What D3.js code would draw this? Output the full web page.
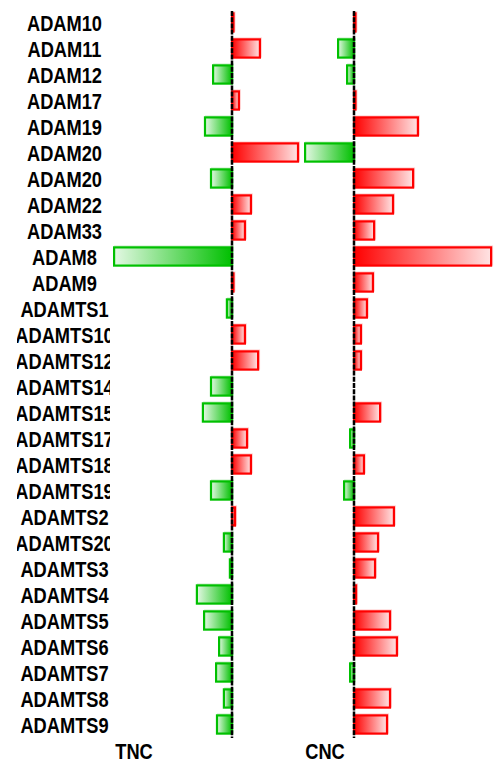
<!DOCTYPE html>
<html><head><meta charset="utf-8">
<script src="https://cdn.jsdelivr.net/npm/d3@7"></script>
<style>html,body{margin:0;padding:0;background:#fff;}svg{display:block;}</style>
</head><body>
<svg id="chart" width="496" height="764"></svg>
<script>
const categories = ["ADAM10","ADAM11","ADAM12","ADAM17","ADAM19","ADAM20","ADAM20","ADAM22","ADAM33","ADAM8","ADAM9","ADAMTS1","ADAMTS10","ADAMTS12","ADAMTS14","ADAMTS15","ADAMTS17","ADAMTS18","ADAMTS19","ADAMTS2","ADAMTS20","ADAMTS3","ADAMTS4","ADAMTS5","ADAMTS6","ADAMTS7","ADAMTS8","ADAMTS9"];
const tncValues = [0.05,0.93,-0.63,0.23,-0.9,2.2,-0.7,0.63,0.43,-3.93,0.05,-0.17,0.43,0.87,-0.7,-0.97,0.5,0.63,-0.7,0.1,-0.27,-0.07,-1.17,-0.93,-0.43,-0.53,-0.27,-0.5];
const cncValues = [0.05,-0.53,-0.23,0.05,2.13,-1.63,1.97,1.3,0.67,4.57,0.63,0.43,0.23,0.23,0,0.87,-0.13,0.33,-0.33,1.33,0.8,0.7,0.07,1.2,1.43,-0.13,1.2,1.1];
const panelTitles = ["TNC","CNC"];

const svg = d3.select("#chart");
const defs = svg.append("defs");

function grad(id, stops){
  const g = defs.append("linearGradient").attr("id", id).attr("x1","0").attr("y1","0").attr("x2","1").attr("y2","0");
  stops.forEach(s => g.append("stop").attr("offset", s[0]).attr("stop-color", s[1]));
}
grad("gradRed", [["0%","#ff0000"],["100%","#ffe4e4"]]);
grad("gradGreen", [["0%","#e4f8e4"],["100%","#00c000"]]);

defs.append("clipPath").attr("id","labelClip").append("rect")
  .attr("x",17).attr("y",0).attr("width",93).attr("height",764);

const y = d3.scaleBand().domain(d3.range(categories.length)).range([9.5, 737.5]).paddingInner(0.3).paddingOuter(0.15);

const xT = d3.scaleLinear().domain([-4, 4]).range([112, 352]);
const xC = d3.scaleLinear().domain([-4, 5]).range([234, 504]);

// labels
const lab = svg.append("g").attr("clip-path","url(#labelClip)");
lab.selectAll("text").data(categories).join("text")
  .attr("transform", (d,i) => `translate(64.5,${y(i) + y.bandwidth()/2 + 8.5}) scale(0.83,1)`)
  .attr("text-anchor","middle")
  .attr("font-family","'Liberation Sans', Arial, sans-serif")
  .attr("font-weight","bold")
  .attr("font-size","22px")
  .attr("fill","#000")
  .text(d => d);

function panel(x, values, title, titleX){
  const g = svg.append("g");
  // halo shadow
  g.selectAll("rect.shadow").data(values).join("rect")
    .attr("class","shadow")
    .attr("x", d => Math.min(x(0), x(d)) + 1)
    .attr("y", (d,i) => y(i) - 1)
    .attr("width", d => Math.abs(x(d) - x(0)))
    .attr("height", y.bandwidth())
    .attr("fill","none")
    .attr("stroke", d => d >= 0 ? "#ffd0d0" : "#d0f0d0")
    .attr("stroke-width", 2)
    .attr("opacity", d => d === 0 ? 0 : 1);
  g.selectAll("rect.bar").data(values).join("rect")
    .attr("class","bar")
    .attr("x", d => Math.min(x(0), x(d)))
    .attr("y", (d,i) => y(i))
    .attr("width", d => Math.abs(x(d) - x(0)))
    .attr("height", y.bandwidth())
    .attr("fill", d => d >= 0 ? "url(#gradRed)" : "url(#gradGreen)")
    .attr("stroke", d => d >= 0 ? "#ff0000" : "#00c000")
    .attr("stroke-width", 2.2)
    .attr("opacity", d => d === 0 ? 0 : 1);
  g.append("line")
    .attr("x1", x(0)).attr("x2", x(0))
    .attr("y1", 11).attr("y2", 738)
    .attr("stroke","#000").attr("stroke-width",2.5)
    .attr("stroke-dasharray","5,1.2");
  svg.append("text")
    .attr("transform", `translate(${titleX},759) scale(0.83,1)`)
    .attr("text-anchor","middle")
    .attr("font-family","'Liberation Sans', Arial, sans-serif")
    .attr("font-weight","bold")
    .attr("font-size","22px")
    .attr("fill","#000")
    .text(title);
}
panel(xT, tncValues, panelTitles[0], 134);
panel(xC, cncValues, panelTitles[1], 325);
</script>
</body></html>
